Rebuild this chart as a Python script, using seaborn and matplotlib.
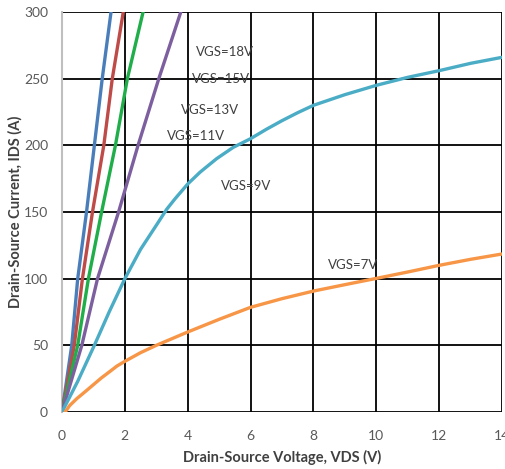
import matplotlib
matplotlib.use("Agg")
import matplotlib.pyplot as plt
import seaborn as sns
import pandas as pd

# ---- data ----
vgs18_x = [0, 0.31, 0.50, 0.78, 1.03, 1.28, 1.56]
vgs18_y = [0, 50, 100, 150, 200, 250, 300]
vgs15_x = [0, 0.39, 0.65, 0.97, 1.33, 1.60, 1.95]
vgs15_y = [0, 50, 100, 150, 200, 250, 300]
vgs13_x = [0, 0.50, 0.84, 1.26, 1.70, 2.08, 2.58]
vgs13_y = [0, 50, 100, 150, 200, 250, 300]
vgs11_x = [0, 0.63, 1.13, 1.80, 2.42, 3.08, 3.78]
vgs11_y = [0, 50, 100, 150, 200, 250, 300]
vgs9_x = [0, 0.5, 1.03, 1.5, 2.0, 2.5, 3.0, 3.33, 3.6, 4.0, 4.4, 4.92, 5.45, 6.0,
          6.5, 7.0, 7.5, 8.0, 9.0, 10.0, 11.0, 12.0, 13.0, 14.0]
vgs9_y = [0, 23, 50, 75, 100, 122, 140, 152, 160, 171, 180, 190, 198.5, 205,
          212, 218.5, 224.5, 230, 238, 245, 251, 256, 261.5, 266]
vgs7_x = [0.1, 0.25, 0.47, 0.75, 1.0, 1.25, 1.53, 1.75, 2.0, 2.5, 3.0, 3.5, 4.0, 5.0,
          6.0, 7.0, 8.0, 9.0, 10.0, 11.0, 12.0, 13.0, 14.0]
vgs7_y = [0, 5, 10, 15.5, 20.5, 25.5, 30.5, 34.5, 38, 44.5, 50, 55, 60, 69.5,
          78.5, 85, 90.7, 95.5, 100.2, 105, 110, 114.5, 118.5]

series_names = ["VGS=18V", "VGS=15V", "VGS=13V", "VGS=11V", "VGS=9V", "VGS=7V"]
series_x = [vgs18_x, vgs15_x, vgs13_x, vgs11_x, vgs9_x, vgs7_x]
series_y = [vgs18_y, vgs15_y, vgs13_y, vgs11_y, vgs9_y, vgs7_y]
colors = ["#4a7ebb", "#be4b48", "#1fae4a", "#7d5fa0", "#4bacc6", "#f79646"]

label_pos = [(5.2, 270), (5.07, 250), (4.7, 226.5), (4.25, 207), (5.85, 169.5), (9.27, 110)]

x_ticks = [0, 2, 4, 6, 8, 10, 12, 14]
y_ticks = [0, 50, 100, 150, 200, 250, 300]

rows = []
for name, xs, ys in zip(series_names, series_x, series_y):
    for xv, yv in zip(xs, ys):
        rows.append({"VDS": xv, "IDS": yv, "VGS": name})
df = pd.DataFrame(rows)

sns.set_style("white")
plt.rcParams["font.family"] = ["Lato", "DejaVu Sans"]

fig = plt.figure(figsize=(5.05, 4.69), dpi=100)
ax = fig.add_axes([62 / 505, 1 - 412 / 469, 440 / 505, 400 / 469])

sns.lineplot(data=df, x="VDS", y="IDS", hue="VGS", palette=dict(zip(series_names, colors)),
             hue_order=series_names, sort=False, linewidth=2.4, legend=False, ax=ax,
             estimator=None, zorder=3)
for ln in ax.get_lines():
    ln.set_solid_joinstyle("round")
    ln.set_solid_capstyle("round")

ax.set_xlim(0, 14)
ax.set_ylim(0, 300)
ax.set_xticks(x_ticks)
ax.set_yticks(y_ticks)
ax.grid(True, color="black", linewidth=1.3, zorder=1)
ax.set_axisbelow(True)
for side in ["top", "right", "bottom"]:
    ax.spines[side].set_visible(False)
ax.spines["left"].set_color("#bfbfbf")
ax.spines["left"].set_linewidth(1.5)
ax.tick_params(axis="both", length=0, labelsize=10, colors="#595959")
ax.tick_params(axis="x", pad=13)
ax.tick_params(axis="y", pad=10)

for name, (lx, ly) in zip(series_names, label_pos):
    ax.text(lx, ly, name, ha="center", va="center", fontsize=9.5, color="#404040", zorder=4)

ax.set_xlabel("Drain-Source Voltage, VDS (V)", fontsize=10.5, fontweight="bold", color="#404040", labelpad=6)
ax.set_ylabel("Drain-Source Current, IDS (A)", fontsize=10.5, fontweight="bold", color="#404040", labelpad=1)

fig.savefig("out.png", dpi=100)
